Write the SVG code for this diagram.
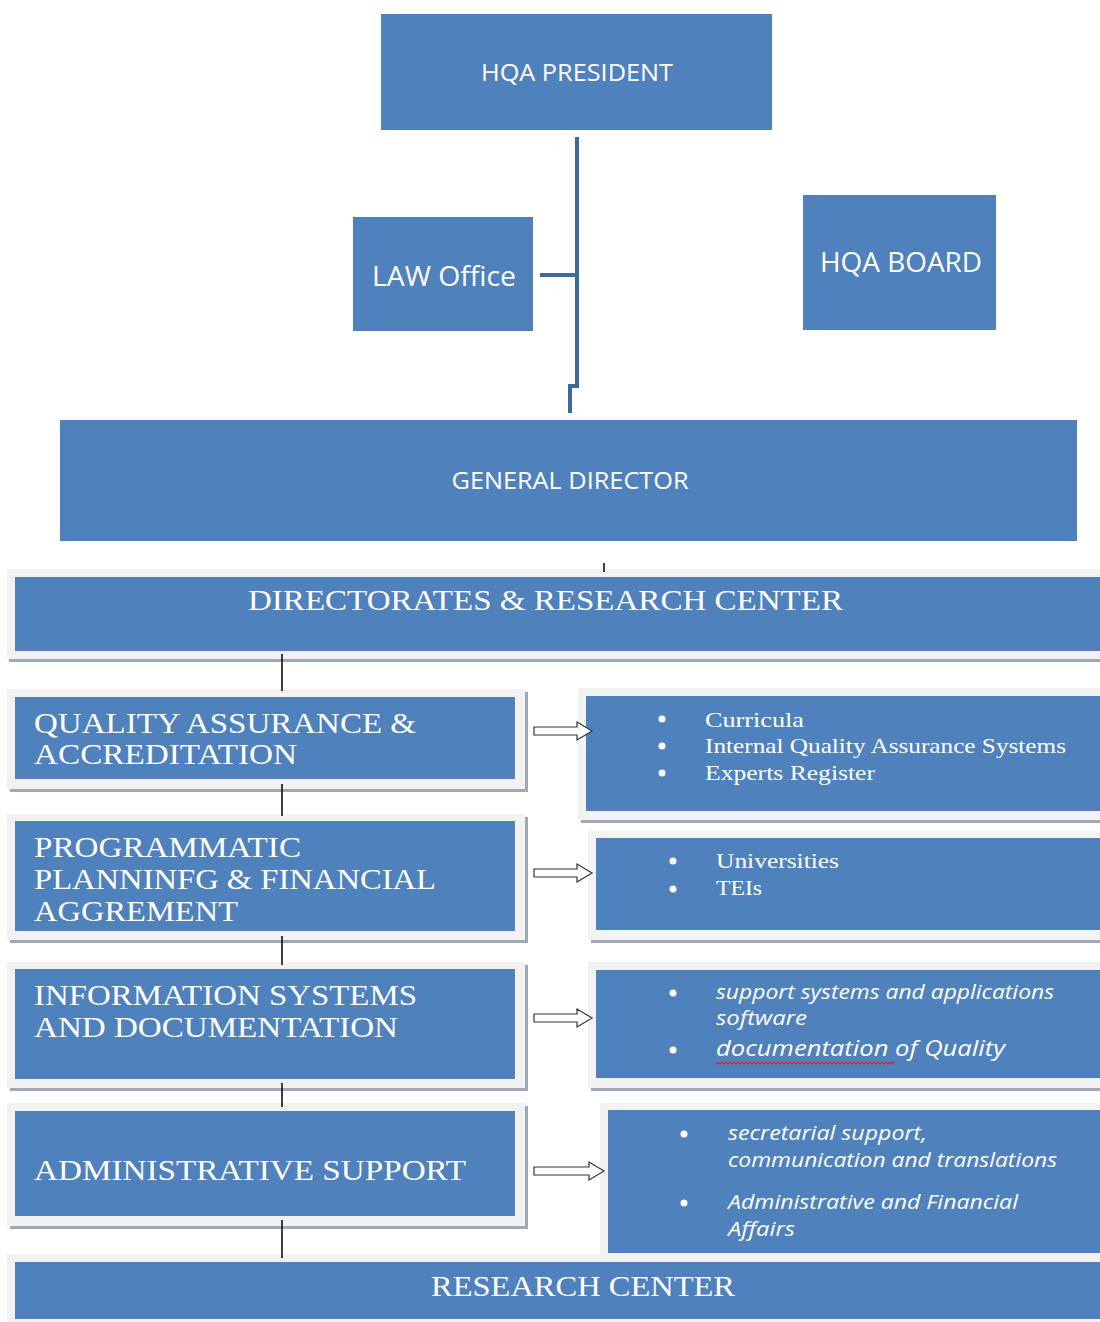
<svg xmlns="http://www.w3.org/2000/svg" width="1100" height="1322" viewBox="0 0 1100 1322">
<style>
.box{fill:#4f81bd}
.frame{fill:#f2f2f2}
.shadow{fill:#9fa9b6}
.sans{font-family:"Open Sans","Liberation Sans",sans-serif;fill:#ffffff}
.serif{font-family:"Liberation Serif","Times New Roman",serif;fill:#ffffff}
.it{font-family:"Open Sans","Liberation Sans",sans-serif;font-style:italic;fill:#ffffff}
.bul{fill:#ffffff}
.conn{stroke:#000000;stroke-width:1.5;fill:none}
.arrow{fill:#ffffff;stroke:#333333;stroke-width:1.2}
</style>
<rect width="1100" height="1322" fill="#ffffff"/>

<g id="hqa-president">
<rect class="box" x="381" y="14" width="391" height="116"/>
<text class="sans" x="577" y="81" font-size="23" text-anchor="middle" textLength="192" lengthAdjust="spacingAndGlyphs">HQA PRESIDENT</text>
</g>

<g id="law-office">
<rect class="box" x="353" y="217" width="180" height="114"/>
<text class="sans" x="444" y="286" font-size="28" text-anchor="middle" textLength="144" lengthAdjust="spacingAndGlyphs">LAW Office</text>
</g>

<g id="hqa-board">
<rect class="box" x="803" y="195" width="193" height="135"/>
<text class="sans" x="901" y="272" font-size="27" text-anchor="middle" textLength="162" lengthAdjust="spacingAndGlyphs">HQA BOARD</text>
</g>

<g id="general-director">
<rect class="box" x="60" y="420" width="1017" height="121"/>
<text class="sans" x="570" y="489" font-size="24" text-anchor="middle" textLength="237" lengthAdjust="spacingAndGlyphs">GENERAL DIRECTOR</text>
</g>

<g id="directorates">
<rect class="shadow" x="9" y="572" width="1091" height="90"/>
<rect class="frame" x="7" y="569" width="1093" height="90"/>
<rect class="box" x="15" y="577" width="1085" height="74"/>
<text class="serif" x="248" y="610" font-size="29" textLength="595" lengthAdjust="spacingAndGlyphs">DIRECTORATES  &amp; RESEARCH CENTER</text>
</g>

<g id="quality-assurance">
<rect class="shadow" x="10" y="692" width="518" height="100"/>
<rect class="frame" x="7" y="689" width="518" height="100"/>
<rect class="box" x="15" y="697" width="500" height="82"/>
<text class="serif" x="34" y="733" font-size="30" textLength="382" lengthAdjust="spacingAndGlyphs">QUALITY ASSURANCE &amp;</text>
<text class="serif" x="34" y="764" font-size="30" textLength="263" lengthAdjust="spacingAndGlyphs">ACCREDITATION</text>
</g>

<g id="qa-details">
<rect class="shadow" x="581" y="691" width="519" height="132"/>
<rect class="frame" x="578" y="688" width="522" height="132"/>
<rect class="box" x="586" y="696" width="514" height="115"/>
<circle class="bul" cx="662" cy="719" r="3.5"/>
<circle class="bul" cx="662" cy="746" r="3.5"/>
<circle class="bul" cx="662" cy="773" r="3.5"/>
<text class="serif" x="705" y="727" font-size="21" textLength="99" lengthAdjust="spacingAndGlyphs">Curricula</text>
<text class="serif" x="705" y="753" font-size="21" textLength="361" lengthAdjust="spacingAndGlyphs">Internal Quality Assurance Systems</text>
<text class="serif" x="705" y="780" font-size="21" textLength="170" lengthAdjust="spacingAndGlyphs">Experts Register</text>
</g>

<g id="programmatic-planning">
<rect class="shadow" x="10" y="817" width="518" height="126"/>
<rect class="frame" x="7" y="814" width="518" height="126"/>
<rect class="box" x="15" y="821" width="500" height="110"/>
<text class="serif" x="34" y="857" font-size="30" textLength="267" lengthAdjust="spacingAndGlyphs">PROGRAMMATIC</text>
<text class="serif" x="34" y="889" font-size="30" textLength="402" lengthAdjust="spacingAndGlyphs">PLANNINFG &amp; FINANCIAL</text>
<text class="serif" x="34" y="921" font-size="30" textLength="204" lengthAdjust="spacingAndGlyphs">AGGREMENT</text>
</g>

<g id="programmatic-details">
<rect class="shadow" x="591" y="834" width="509" height="109"/>
<rect class="frame" x="588" y="831" width="512" height="109"/>
<rect class="box" x="596" y="838" width="504" height="92"/>
<circle class="bul" cx="673" cy="861" r="3.5"/>
<circle class="bul" cx="673" cy="889" r="3.5"/>
<text class="serif" x="716" y="868" font-size="21" textLength="123" lengthAdjust="spacingAndGlyphs">Universities</text>
<text class="serif" x="716" y="895" font-size="21" textLength="46" lengthAdjust="spacingAndGlyphs">TEIs</text>
</g>

<g id="information-systems">
<rect class="shadow" x="10" y="965" width="518" height="126"/>
<rect class="frame" x="7" y="962" width="518" height="126"/>
<rect class="box" x="15" y="969" width="500" height="110"/>
<text class="serif" x="34" y="1005" font-size="30" textLength="383" lengthAdjust="spacingAndGlyphs">INFORMATION SYSTEMS</text>
<text class="serif" x="34" y="1037" font-size="30" textLength="364" lengthAdjust="spacingAndGlyphs">AND DOCUMENTATION</text>
</g>

<g id="information-details">
<rect class="shadow" x="591" y="965" width="509" height="126"/>
<rect class="frame" x="588" y="962" width="512" height="126"/>
<rect class="box" x="596" y="970" width="504" height="108"/>
<circle class="bul" cx="673" cy="993" r="3.5"/>
<circle class="bul" cx="673" cy="1050" r="3.5"/>
<text class="it" x="716" y="999" font-size="20" textLength="338" lengthAdjust="spacingAndGlyphs">support systems and applications</text>
<text class="it" x="716" y="1025" font-size="20" textLength="91" lengthAdjust="spacingAndGlyphs">software</text>
<text class="it" x="716" y="1056" font-size="22" textLength="289" lengthAdjust="spacingAndGlyphs">documentation of Quality</text>
<path d="M716,1064 l2,-2 l2,2 l2,-2 l2,2 l2,-2 l2,2 l2,-2 l2,2 l2,-2 l2,2 l2,-2 l2,2 l2,-2 l2,2 l2,-2 l2,2 l2,-2 l2,2 l2,-2 l2,2 l2,-2 l2,2 l2,-2 l2,2 l2,-2 l2,2 l2,-2 l2,2 l2,-2 l2,2 l2,-2 l2,2 l2,-2 l2,2 l2,-2 l2,2 l2,-2 l2,2 l2,-2 l2,2 l2,-2 l2,2 l2,-2 l2,2 l2,-2 l2,2 l2,-2 l2,2 l2,-2 l2,2 l2,-2 l2,2 l2,-2 l2,2 l2,-2 l2,2 l2,-2 l2,2 l2,-2 l2,2 l2,-2 l2,2 l2,-2 l2,2 l2,-2 l2,2 l2,-2 l2,2 l2,-2 l2,2 l2,-2 l2,2 l2,-2 l2,2 l2,-2 l2,2 l2,-2 l2,2 l2,-2 l2,2 l2,-2 l2,2 l2,-2 l2,2 l2,-2 l2,2 l2,-2 l2,2 l2,-2" stroke="#e02020" stroke-width="1.2" fill="none"/>
</g>

<g id="administrative-support">
<rect class="shadow" x="10" y="1106" width="518" height="123"/>
<rect class="frame" x="7" y="1103" width="518" height="123"/>
<rect class="box" x="15" y="1111" width="500" height="105"/>
<text class="serif" x="34" y="1180" font-size="30" textLength="432" lengthAdjust="spacingAndGlyphs">ADMINISTRATIVE  SUPPORT</text>
</g>

<g id="administrative-details">
<rect class="frame" x="600" y="1103" width="500" height="155"/>
<rect class="box" x="608" y="1110" width="492" height="143"/>
<circle class="bul" cx="684" cy="1134" r="3.5"/>
<circle class="bul" cx="684" cy="1203" r="3.5"/>
<text class="it" x="728" y="1140" font-size="20" textLength="199" lengthAdjust="spacingAndGlyphs">secretarial support,</text>
<text class="it" x="728" y="1167" font-size="20" textLength="329" lengthAdjust="spacingAndGlyphs">communication and translations</text>
<text class="it" x="728" y="1209" font-size="20" textLength="290" lengthAdjust="spacingAndGlyphs">Administrative and Financial</text>
<text class="it" x="728" y="1236" font-size="20" textLength="67" lengthAdjust="spacingAndGlyphs">Affairs</text>
</g>

<g id="research-center">
<rect class="frame" x="7" y="1254" width="1093" height="68"/>
<rect class="box" x="15" y="1262" width="1085" height="57"/>
<text class="serif" x="431" y="1296" font-size="29" textLength="304" lengthAdjust="spacingAndGlyphs">RESEARCH CENTER</text>
</g>

<g id="connectors">
<path d="M577,137 V386 H570 V413" stroke="#3d6a9d" stroke-width="4" fill="none"/>
<path d="M540,275 H577" stroke="#3d6a9d" stroke-width="4" fill="none"/>
<path class="conn" d="M604,563 V572"/>
<path class="conn" d="M282,654 V691"/>
<path class="conn" d="M282,784 V816"/>
<path class="conn" d="M282,936 V965"/>
<path class="conn" d="M282,1083 V1107"/>
<path class="conn" d="M282,1220 V1258"/>
<path class="arrow" d="M534,727 H577 V722 L592,731 L577,740 V735 H534 Z"/>
<path class="arrow" d="M534,869 H577 V864 L592,873 L577,882 V877 H534 Z"/>
<path class="arrow" d="M534,1014 H577 V1009 L592,1018 L577,1027 V1022 H534 Z"/>
<path class="arrow" d="M534,1167 H589 V1162 L604,1171 L589,1180 V1175 H534 Z"/>
</g>
</svg>
